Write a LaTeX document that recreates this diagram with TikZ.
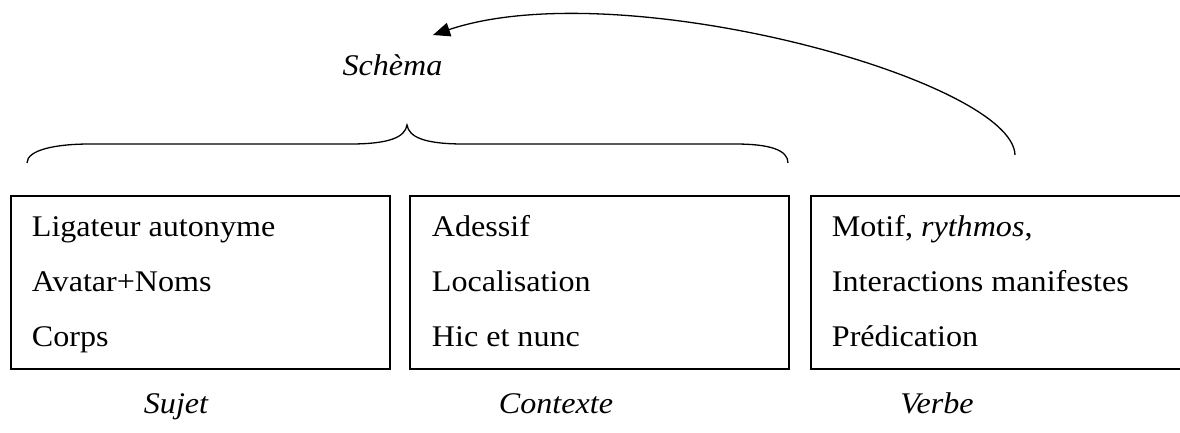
\documentclass[tikz,border=0pt]{standalone}
\usepackage{fontspec}
\setmainfont{Liberation Serif}
\usetikzlibrary{arrows.meta}
\newcommand{\sx}[1]{\scalebox{1.07}[1]{#1}}
\begin{document}
\begin{tikzpicture}[x=1pt,y=-1pt,
  boxnode/.style={draw,line width=1.6pt,minimum width=379pt,minimum height=173pt,inner sep=0pt},
  txt/.style={anchor=base west,inner sep=0pt,font=\fontsize{30}{35}\selectfont},
  lab/.style={anchor=base,inner sep=0pt,font=\fontsize{30}{35}\selectfont\itshape},
  curve/.style={line width=1.3pt}]
\useasboundingbox (0,0) rectangle (1180,432);
\clip (0,0) rectangle (1180,432);
% boxes
\node[boxnode] (b1) at (200.5,282.5) {};
\node[boxnode] (b2) at (599.5,282.5) {};
\node[boxnode] (b3) at (1000.5,282.5) {};
% box texts
\node[txt] (t11) at (31.7,236.7) {\sx{Ligateur autonyme}};
\node[txt] (t12) at (31.7,291.7) {\sx{Avatar+Noms}};
\node[txt] (t13) at (31.7,346) {\sx{Corps}};
\node[txt] (t21) at (431.7,236.7) {\sx{Adessif}};
\node[txt] (t22) at (431.7,291.7) {\sx{Localisation}};
\node[txt] (t23) at (431.7,346) {\sx{Hic et nunc}};
\node[txt] (t31) at (831.7,236.7) {\sx{Motif, \textit{rythmos},}};
\node[txt] (t32) at (831.7,291.7) {\sx{Interactions manifestes}};
\node[txt] (t33) at (831.7,346) {\sx{Prédication}};
% labels
\node[lab] (sujet) at (176,413) {\sx{Sujet}};
\node[lab] (contexte) at (556,413) {\sx{Contexte}};
\node[lab] (verbe) at (937,413) {\sx{Verbe}};
\node[lab] (schema) at (392.5,75) {\sx{Schèma}};
% brace
\coordinate (brL) at (27,163);
\coordinate (brM) at (407,125);
\coordinate (brR) at (788,163);
\draw[curve] (brL) .. controls (27,150) and (55,144) .. (90,144)
  -- (350,144) .. controls (390,144) and (405,137) .. (brM)
  .. controls (409,137) and (424,144) .. (464,144)
  -- (735,144) .. controls (770,144) and (788,150) .. (brR);
% arrow
\coordinate (arrS) at (1015,155);
\coordinate (arrE) at (433,35);
\draw[curve,-{Triangle[length=17pt,width=14pt]}] (arrS) .. controls (1013,80) and (620,-28) .. (arrE);
\end{tikzpicture}
\end{document}
